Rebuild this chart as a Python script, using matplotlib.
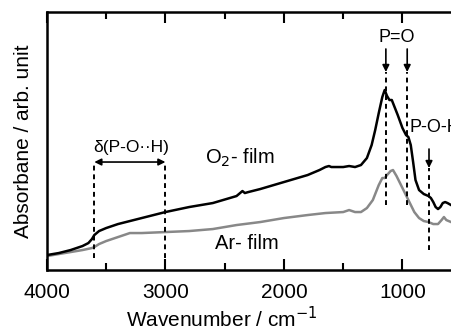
import numpy as np
import matplotlib
matplotlib.use('Agg')
import matplotlib.pyplot as plt
from matplotlib.ticker import MultipleLocator

plt.rcParams['font.family'] = ['Liberation Sans', 'DejaVu Sans']

# O2 film spectrum (wavenumber, absorbance in arb. units)
wn_o2 = [4000, 3900, 3800, 3700, 3650, 3620, 3600, 3560, 3500, 3400, 3300,
         3200, 3100, 3000, 2800, 2600, 2400, 2370, 2350, 2330, 2300, 2200,
         2000, 1800, 1700, 1650, 1620, 1600, 1500, 1450, 1400, 1350, 1300,
         1260, 1230, 1200, 1170, 1150, 1130, 1110, 1090, 1070, 1040, 1000,
         970, 950, 930, 910, 890, 860, 820, 780, 760, 740, 720, 700, 680,
         660, 640, 620, 590]
abs_o2 = [15, 17, 20, 24, 27, 31, 35, 39, 42, 46, 49, 52, 55, 58, 63, 67,
          74, 77, 79, 77, 78, 81, 88, 95, 100, 103, 104, 103, 103, 104, 103,
          105, 112, 125, 140, 157, 173, 180, 174, 170, 170, 164, 155, 142,
          135, 133, 125, 108, 90, 80, 76, 74, 72, 68, 63, 61, 63, 67, 68,
          67, 65]

# Ar film spectrum
wn_ar = [4000, 3900, 3800, 3700, 3620, 3600, 3560, 3500, 3400, 3300, 3200,
         3000, 2800, 2600, 2400, 2200, 2000, 1800, 1650, 1500, 1450, 1400,
         1350, 1300, 1250, 1200, 1170, 1150, 1130, 1100, 1080, 1050, 1000,
         950, 900, 860, 820, 780, 740, 700, 670, 650, 630, 590]
abs_ar = [14, 16, 18, 20, 22, 23, 26, 29, 33, 37, 37, 38, 39, 41, 45, 48,
          52, 55, 57, 58, 60, 58, 58, 62, 70, 85, 92, 92, 95, 99, 100, 94,
          82, 70, 58, 52, 49, 48, 46, 46, 50, 53, 50, 48]

# band markers
poh_range = [3600, 3000]
po_bands = [1140, 960]
poh_band = 776

fig = plt.figure(figsize=(4.51, 3.33), dpi=100)
ax = fig.add_axes([0.104, 0.189, 0.904, 0.775])

ax.plot(wn_ar, abs_ar, color='#888888', lw=1.8)
ax.plot(wn_o2, abs_o2, color='black', lw=1.8)

ax.set_xlim(4000, 560)
ax.set_ylim(0, 258)

dash = dict(color='black', lw=1.4, ls=(0, (2.5, 2)))
arrow = dict(arrowstyle='-|>', color='black', lw=1.2,
             mutation_scale=10, shrinkA=0, shrinkB=0)
for w in poh_range:
    ax.plot([w, w], [12, 108], **dash)
ax.annotate('', xy=(3600, 108), xytext=(3000, 108),
            arrowprops=dict(arrow, arrowstyle='<|-|>'))
ax.text(3290, 123, '\u03b4(P-O\u00b7\u00b7H)', ha='center', va='center',
        fontsize=12.5)

for w in po_bands:
    ax.plot([w, w], [65, 198], **dash)
    ax.annotate('', xy=(w, 198), xytext=(w, 221), arrowprops=arrow)
ax.text(1050, 232, 'P=O', ha='center', va='center', fontsize=13)

ax.plot([poh_band, poh_band], [20, 102], **dash)
ax.annotate('', xy=(poh_band, 102), xytext=(poh_band, 121), arrowprops=arrow)
ax.text(940, 143, 'P-O-H', ha='left', va='center', fontsize=13)

ax.text(2370, 112, r'O$_2$- film', ha='center', va='center', fontsize=14.5)
ax.text(2310, 27, 'Ar- film', ha='center', va='center', fontsize=14.5)

ax.xaxis.set_major_locator(MultipleLocator(1000))
ax.xaxis.set_minor_locator(MultipleLocator(500))
ax.tick_params(axis='x', which='both', direction='in', top=True,
               labelsize=15, pad=9)
ax.tick_params(axis='x', which='major', length=8, width=1.5)
ax.tick_params(axis='x', which='minor', length=5, width=1.5)
ax.set_yticks([])
for s in ax.spines.values():
    s.set_linewidth(1.8)

ax.set_xlabel('Wavenumber / cm$^{-1}$', fontsize=15)
ax.xaxis.set_label_coords(0.429, -0.14)
ax.set_ylabel('Absorbane / arb. unit', fontsize=15, labelpad=10)

fig.savefig('out.png', dpi=100)
